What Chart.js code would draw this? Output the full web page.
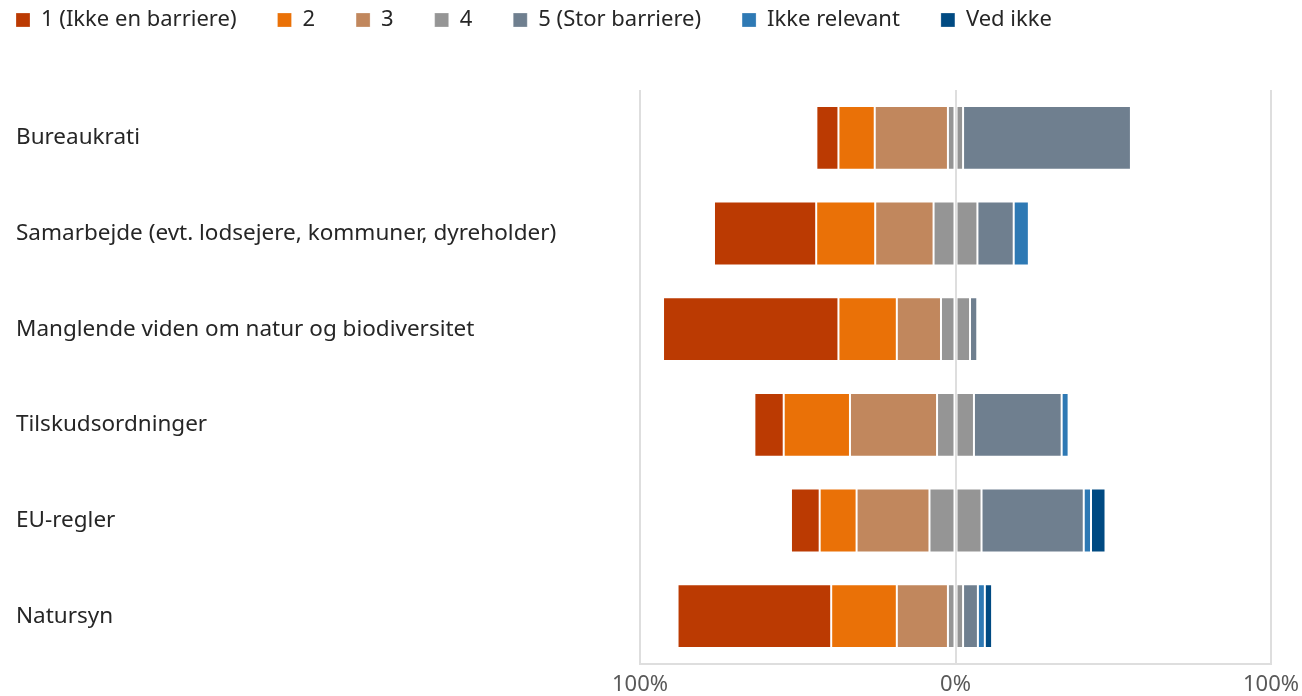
<!DOCTYPE html>
<html>
<head>
<meta charset="utf-8">
<script src="https://cdn.jsdelivr.net/npm/chart.js@4"></script>
<style>
  html, body { margin: 0; padding: 0; background: #fff; }
  #wrap { width: 1302px; height: 696px; }
</style>
</head>
<body>
<div id="wrap"><canvas id="barrierChart"></canvas></div>
<script>
// Andel svar pr. barriere (%)
const categories = [
    'Bureaukrati',
    'Samarbejde (evt. lodsejere, kommuner, dyreholder)',
    'Manglende viden om natur og biodiversitet',
    'Tilskudsordninger',
    'EU-regler',
    'Natursyn'
];
const score1 = [7.0, 32.4, 55.6, 9.3, 9.1, 48.7];
const score2 = [11.5, 18.7, 18.5, 21.0, 11.7, 20.8];
const score3 = [23.2, 18.5, 14.0, 27.6, 23.1, 16.2];
const score4 = [4.8, 13.9, 9.2, 11.7, 16.5, 4.8];
const score5 = [53.2, 11.5, 2.3, 27.8, 32.4, 4.7];
const ikkeRelevant = [0, 4.8, 0, 2.2, 2.3, 2.2];
const vedIkke = [0, 0, 0, 0, 4.6, 2.3];
const tickValues = [-100, 0, 100];
const tickLabels = ['100%', '0%', '100%'];

const FONT = "'Noto Sans', 'Open Sans', sans-serif";

// left side is negative, "4" is split across the middle
const neg = arr => arr.map(v => -v);
const half = arr => arr.map(v => v / 2);

function bar(label, data, color, order) {
    return {
        label: label,
        data: data,
        backgroundColor: color,
        borderColor: 'rgba(255,255,255,0.25)',
        borderWidth: 1,
        borderSkipped: false,
        order: order
    };
}

// move the legend to the very top-left like the original
const legendShift = {
    id: 'legendShift',
    beforeDraw(chart) {
        chart.legend.left = 16 - 41;
        chart.legend.top = -32;
    }
};

const ctx = document.getElementById('barrierChart').getContext('2d');
new Chart(ctx, {
    type: 'bar',
    data: {
        labels: categories,
        datasets: [
            bar('1 (Ikke en barriere)', neg(score1), '#BB3A02', 3),
            bar('2', neg(score2), '#EA7107', 2),
            bar('3', neg(score3), '#C1875D', 1),
            bar('4', neg(half(score4)), '#959595', 0),
            bar('4', half(score4), '#959595', 0),
            bar('5 (Stor barriere)', score5, '#6F7F8F', 1),
            bar('Ikke relevant', ikkeRelevant, '#2E79B4', 2),
            bar('Ved ikke', vedIkke, '#004A82', 3)
        ]
    },
    options: {
        indexAxis: 'y',
        responsive: true,
        maintainAspectRatio: false,
        animation: false,
        layout: { padding: { top: 17, left: 16, right: 31, bottom: 0 } },
        datasets: { bar: { barPercentage: 0.667, categoryPercentage: 1 } },
        scales: {
            x: {
                stacked: true,
                min: -100,
                max: 100,
                afterBuildTicks: axis => { axis.ticks = tickValues.map(v => ({ value: v })); },
                afterFit: axis => {
                    axis.height = 32;
                    axis.paddingLeft = 0;
                    axis.paddingRight = 0;
                },
                grid: { color: '#dedede', lineWidth: 2, drawTicks: false },
                border: { display: true, color: '#dedede', width: 2 },
                ticks: {
                    padding: 8,
                    color: '#595959',
                    font: { family: FONT, size: 22 },
                    maxRotation: 0,
                    callback: (v, i) => tickLabels[i]
                }
            },
            y: {
                stacked: true,
                afterFit: axis => { axis.width = 624; },
                grid: { display: false },
                border: { display: false },
                ticks: {
                    crossAlign: 'far',
                    color: '#262626',
                    font: { family: FONT, size: 22.5 }
                }
            }
        },
        plugins: {
            legend: {
                position: 'top',
                align: 'start',
                labels: {
                    boxWidth: 14,
                    boxHeight: 14,
                    padding: 41,
                    color: '#262626',
                    font: { family: FONT, size: 22 },
                    filter: item => item.datasetIndex !== 4,
                    sort: (a, b) => a.datasetIndex - b.datasetIndex
                }
            },
            tooltip: { enabled: false }
        }
    },
    plugins: [legendShift]
});
</script>
</body>
</html>
